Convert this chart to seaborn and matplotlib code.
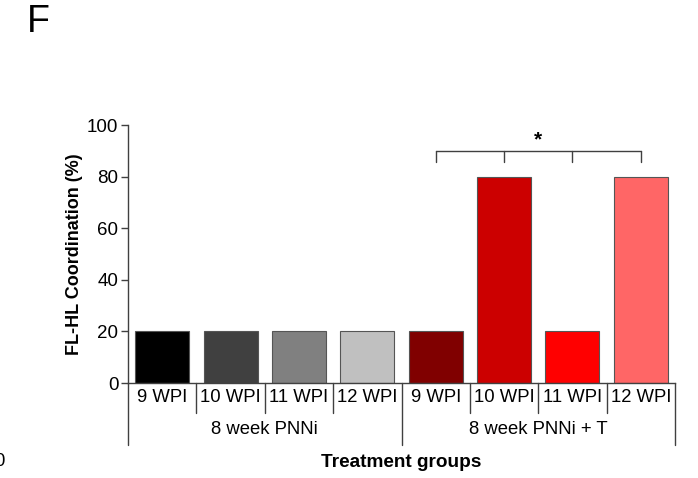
import matplotlib
matplotlib.use("Agg")
import matplotlib.pyplot as plt
import seaborn as sns
import pandas as pd

# Data
timepoints = ["9 WPI", "10 WPI", "11 WPI", "12 WPI"]
groups = ["8 week PNNi", "8 week PNNi + T"]
pnni_values = [20, 20, 20, 20]
pnni_t_values = [20, 80, 20, 80]
bar_colors = ["#000000", "#404040", "#808080", "#c0c0c0",
              "#800000", "#cc0000", "#ff0000", "#ff6666"]

rows = []
for g, vals in zip(groups, [pnni_values, pnni_t_values]):
    for tp, v in zip(timepoints, vals):
        rows.append({"group": g, "tp": tp, "value": v, "key": f"{g}|{tp}"})
df = pd.DataFrame(rows)

sns.set_style("white")
plt.rcParams["font.family"] = ["Liberation Sans", "DejaVu Sans"]
plt.rcParams["text.color"] = "black"
plt.rcParams["axes.labelcolor"] = "black"
plt.rcParams["ytick.color"] = "black"

fig = plt.figure(figsize=(6.98, 4.78), dpi=100)
W, H = 698, 478
left, right, bottom, top = 128, 675, 383, 125
ax = fig.add_axes([left / W, 1 - bottom / H, (right - left) / W, (bottom - top) / H])

sns.barplot(data=df, x="key", y="value", hue="key", palette=bar_colors,
            saturation=1, width=0.79, edgecolor="#555555", linewidth=0.8,
            legend=False, dodge=False, ax=ax)

ax.set_xlim(-0.5, len(df) - 0.5)
ax.set_ylim(0, 100)
ax.set_yticks([0, 20, 40, 60, 80, 100])
ax.tick_params(axis="y", direction="out", length=5, width=1, color="#404040",
               labelcolor="black", labelsize=13.5, pad=2, left=True)
ax.tick_params(axis="x", bottom=False, labelbottom=False)
ax.set_xlabel("")
ax.set_ylabel("FL-HL Coordination (%)", fontsize=13, fontweight="bold",
              color="black")
ax.yaxis.set_label_coords(-0.082, 0.5)

for s in ["top", "right"]:
    ax.spines[s].set_visible(False)
for s in ["left", "bottom"]:
    ax.spines[s].set_color("#404040")
    ax.spines[s].set_linewidth(1)

# Category labels below the axis
tr = ax.get_xaxis_transform()
n = len(df)
for i in range(n + 1):
    outer = (i % 4 == 0)
    ax.plot([i - 0.5, i - 0.5], [0, -0.240 if outer else -0.116], transform=tr,
            color="#404040", lw=1, clip_on=False)
for i, tp in enumerate(df["tp"]):
    ax.text(i, -0.058, tp, transform=tr, ha="center", va="center",
            fontsize=13.3, color="black")
for j, g in enumerate(groups):
    ax.text(j * 4 + 1.5, -0.182, g, transform=tr, ha="center", va="center",
            fontsize=13.3, color="black")
ax.text(3.5, -0.31, "Treatment groups", transform=tr, ha="center", va="center",
        fontsize=13.7, fontweight="bold", color="black")

# Significance bracket over the PNNi + T bars
y_top, y_tick = 90.0, 85.7
xs = [4, 5, 6, 7]
ax.plot([xs[0], xs[-1]], [y_top, y_top], color="#404040", lw=1, clip_on=False)
for x in xs:
    ax.plot([x, x], [y_top, y_tick], color="#404040", lw=1, clip_on=False)
ax.text(5.5, y_top + 0.6, "*", ha="center", va="bottom", fontsize=15,
        fontweight="bold", color="black")

fig.text(27 / W, 1 - 32 / H, "F", fontsize=27, ha="left", va="baseline",
         color="black")
fig.text(4.5 / W, 1 - 462 / H, "0", fontsize=13.3, ha="right", va="center",
         color="black")

fig.savefig("out.png", dpi=100)
